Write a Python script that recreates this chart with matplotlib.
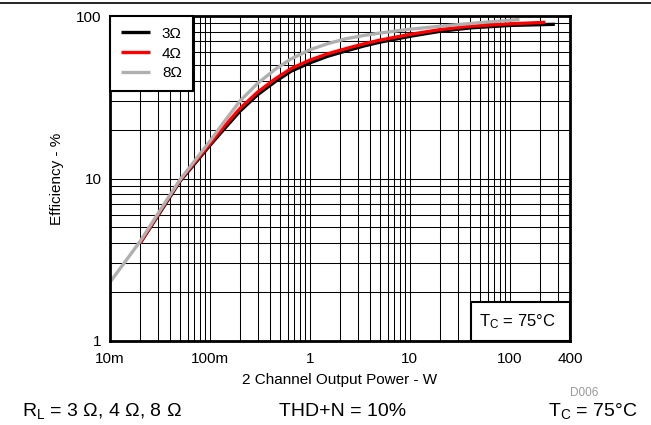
import matplotlib
matplotlib.use("Agg")
import matplotlib.pyplot as plt
from matplotlib.lines import Line2D
from matplotlib.patches import Rectangle

plt.rcParams['font.family'] = ['Liberation Sans', 'DejaVu Sans']
plt.rcParams['mathtext.fontset'] = 'custom'
plt.rcParams['mathtext.rm'] = 'Liberation Sans'
plt.rcParams['mathtext.it'] = 'Liberation Sans:italic'

# output power (W) and efficiency (%)
p_3ohm = [0.02, 0.035, 0.05, 0.07, 0.1, 0.14, 0.2, 0.3, 0.45, 0.65, 1.0, 1.5, 2.3, 3.5, 5,
          10, 20, 40, 100, 282]
eff_3ohm = [4.0, 6.8, 9.6, 12.3, 16.0, 20.3, 26.0, 32.8, 39.5, 45.8, 51.5, 56.5, 61.0, 65.5, 69.0,
            75.0, 80.5, 84.5, 87.5, 88.9]
p_4ohm = [0.02, 0.035, 0.05, 0.07, 0.1, 0.14, 0.2, 0.3, 0.45, 0.65, 1.0, 1.5, 2.3, 3.5, 5,
          10, 20, 40, 100, 227]
eff_4ohm = [4.0, 6.9, 9.7, 12.5, 16.3, 21.0, 27.0, 34.0, 41.0, 47.5, 53.5, 58.5, 63.0, 67.5, 71.0,
            77.0, 82.5, 86.5, 89.5, 91.4]
p_8ohm = [0.01, 0.02, 0.035, 0.05, 0.07, 0.1, 0.14, 0.2, 0.3, 0.45, 0.65, 1.0, 1.5, 2.3, 3.5,
          5, 9.3, 20, 50, 125]
eff_8ohm = [2.3, 4.1, 7.0, 9.8, 12.8, 17.0, 22.5, 30.0, 38.5, 47.0, 54.5, 62.0, 67.5, 72.5, 76.0,
            78.5, 82.5, 86.5, 91.0, 95.0]

x_ticks = [0.01, 0.1, 1, 10, 100, 400]
x_ticklabels = ["10m", "100m", "1", "10", "100", "400"]
y_ticks = [1, 10, 100]
y_ticklabels = ["1", "10", "100"]

fig = plt.figure(figsize=(6.51, 4.25), dpi=100)
ax = fig.add_axes([110 / 651, 1 - 341 / 425, 460 / 651, 325 / 425])

ax.plot(p_3ohm, eff_3ohm, color="black", lw=2.4, label="3Ω", solid_capstyle="butt")
ax.plot(p_4ohm, eff_4ohm, color="#ff0000", lw=2.4, label="4Ω", solid_capstyle="butt")
ax.plot(p_8ohm, eff_8ohm, color="#b0b0b0", lw=2.4, label="8Ω", solid_capstyle="butt")

ax.set_xscale("log")
ax.set_yscale("log")
ax.set_xlim(0.01, 400)
ax.set_ylim(1, 100)
ax.set_xticks(x_ticks)
ax.set_xticklabels(x_ticklabels)
ax.set_yticks(y_ticks)
ax.set_yticklabels(y_ticklabels)
ax.tick_params(which="both", length=0, labelsize=11, pad=8)
ax.tick_params(axis="y", pad=6)
ax.minorticks_on()
ax.tick_params(which="minor", length=0)
ax.xaxis.set_minor_formatter(plt.NullFormatter())
ax.yaxis.set_minor_formatter(plt.NullFormatter())
ax.grid(which="both", color="black", lw=0.75)
ax.set_axisbelow(True)
for s in ax.spines.values():
    s.set_linewidth(2)

ax.set_xlabel("2 Channel Output Power - W", fontsize=11, labelpad=5)
ax.set_ylabel("Efficiency - %", fontsize=11, labelpad=9)

leg = ax.legend(loc="upper left", borderaxespad=0, fancybox=False, framealpha=1,
                edgecolor="black", fontsize=11, handlelength=1.9,
                borderpad=0.7, labelspacing=0.38, handletextpad=0.8)
leg.get_frame().set_linewidth(1.5)

# T_C box in lower right corner
ax.add_patch(Rectangle((0.785, 0), 0.215, 0.12, transform=ax.transAxes,
                       facecolor="white", edgecolor="black", lw=1.5, zorder=5))
ax.text(0.885, 0.06, "T$_\\mathrm{C}$ = 75°C", transform=ax.transAxes,
        ha="center", va="center", fontsize=12, zorder=6)

fig.add_artist(Line2D([0, 1], [1 - 2.5 / 425] * 2, color="black", lw=1.2))
fig.text(584 / 651, 1 - 393 / 425, "D006", color="#999999", fontsize=8.5,
         ha="center", va="center")
fig.text(22 / 651, 1 - 411 / 425, "R$_\\mathrm{L}$ = 3 Ω, 4 Ω, 8 Ω", fontsize=14,
         ha="left", va="center")
fig.text(343 / 651, 1 - 411 / 425, "THD+N = 10%", fontsize=14,
         ha="center", va="center")
fig.text(637 / 651, 1 - 411 / 425, "T$_\\mathrm{C}$ = 75°C", fontsize=14,
         ha="right", va="center")

fig.savefig("out.png", dpi=100)
